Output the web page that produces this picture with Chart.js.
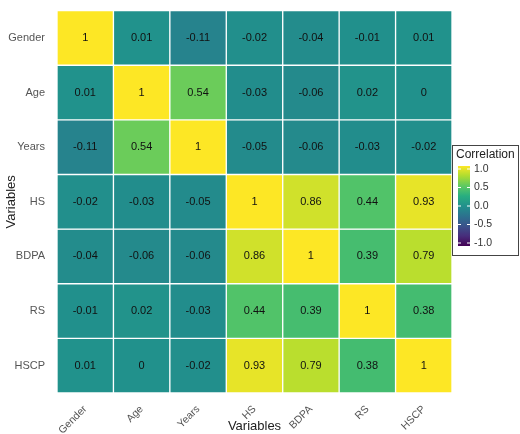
<!DOCTYPE html>
<html>
<head>
<meta charset="utf-8">
<script src="https://cdn.jsdelivr.net/npm/chart.js@4"></script>
<style>
  html, body { margin: 0; padding: 0; background: #fff; }
  #wrap { width: 520px; height: 434px; }
</style>
</head>
<body>
<div id="wrap"><canvas id="heat"></canvas></div>
<script>
// variables, top row first
const variables = ['Gender', 'Age', 'Years', 'HS', 'BDPA', 'RS', 'HSCP'];
const rowGender = [1, 0.01, -0.11, -0.02, -0.04, -0.01, 0.01];
const rowAge    = [0.01, 1, 0.54, -0.03, -0.06, 0.02, 0];
const rowYears  = [-0.11, 0.54, 1, -0.05, -0.06, -0.03, -0.02];
const rowHS     = [-0.02, -0.03, -0.05, 1, 0.86, 0.44, 0.93];
const rowBDPA   = [-0.04, -0.06, -0.06, 0.86, 1, 0.39, 0.79];
const rowRS     = [-0.01, 0.02, -0.03, 0.44, 0.39, 1, 0.38];
const rowHSCP   = [0.01, 0, -0.02, 0.93, 0.79, 0.38, 1];
const rows = [rowGender, rowAge, rowYears, rowHS, rowBDPA, rowRS, rowHSCP];
const legendTicks = [1.0, 0.5, 0.0, -0.5, -1.0];

const viridis = ['#440154', '#472d7b', '#3b528b', '#2c728e', '#21918c', '#28ae80', '#5ec962', '#addc30', '#fde725'];

function hex(c) { return [1, 3, 5].map(i => parseInt(c.substr(i, 2), 16)); }
function colorFor(v) {
  const t = Math.max(0, Math.min(1, (v + 1) / 2)) * (viridis.length - 1);
  const i = Math.min(viridis.length - 2, Math.floor(t));
  const f = t - i;
  const a = hex(viridis[i]), b = hex(viridis[i + 1]);
  const m = a.map((x, k) => Math.round(x + (b[k] - x) * f));
  return `rgb(${m[0]},${m[1]},${m[2]})`;
}

const datasets = rows.map((vals, r) => ({
  label: variables[r],
  data: vals.map(() => [r, r + 1]),
  backgroundColor: vals.map(colorFor),
  borderColor: '#ffffff',
  borderWidth: 1,
  borderSkipped: false,
  grouped: false,
  barPercentage: 1,
  categoryPercentage: 1
}));

const FONT = '"Liberation Sans", Arial, sans-serif';

// numbers in each cell
const cellText = {
  id: 'cellText',
  afterDatasetsDraw(chart) {
    const { ctx, scales: { x, y } } = chart;
    ctx.save();
    ctx.font = '11px ' + FONT;
    ctx.fillStyle = '#111';
    ctx.textAlign = 'center';
    ctx.textBaseline = 'middle';
    rows.forEach((vals, r) => {
      vals.forEach((v, c) => {
        ctx.fillText(String(v), x.getPixelForValue(c), y.getPixelForValue(r + 0.5));
      });
    });
    ctx.restore();
  }
};

// colour bar legend
const colorBar = {
  id: 'colorBar',
  afterDraw(chart) {
    const ctx = chart.ctx;
    const bx = 452, by = 145, bw = 66, bh = 110;
    ctx.save();
    ctx.strokeStyle = '#444';
    ctx.lineWidth = 1;
    ctx.strokeRect(bx + 0.5, by + 0.5, bw, bh);
    ctx.fillStyle = '#222';
    ctx.font = '12px ' + FONT;
    ctx.textBaseline = 'middle';
    ctx.fillText('Correlation', bx + 4, by + 10);
    const top = 166, bot = 246, x0 = bx + 6, w = 12;
    const grad = ctx.createLinearGradient(0, bot, 0, top);
    viridis.forEach((c, i) => grad.addColorStop(i / (viridis.length - 1), c));
    ctx.fillStyle = grad;
    ctx.fillRect(x0, top, w, bot - top);
    ctx.font = '10.5px ' + FONT;
    const y1 = 169, y2 = 243;
    legendTicks.forEach(v => {
      const yy = y2 - (v + 1) / 2 * (y2 - y1);
      ctx.strokeStyle = '#fff';
      ctx.beginPath(); ctx.moveTo(x0, yy); ctx.lineTo(x0 + 3, yy);
      ctx.moveTo(x0 + w - 3, yy); ctx.lineTo(x0 + w, yy); ctx.stroke();
      ctx.fillStyle = '#333';
      ctx.fillText(v.toFixed(1), x0 + w + 4, yy);
    });
    ctx.restore();
  }
};

new Chart(document.getElementById('heat'), {
  type: 'bar',
  data: { labels: variables, datasets },
  plugins: [cellText, colorBar],
  options: {
    responsive: true,
    maintainAspectRatio: false,
    animation: false,
    layout: { padding: { top: 1, right: 68, left: 0, bottom: 0 } },
    plugins: { legend: { display: false }, tooltip: { enabled: false } },
    scales: {
      x: {
        grid: { display: false },
        border: { display: false },
        afterFit(axis) { axis.height = 41; },
        ticks: { color: '#555', maxRotation: 45, minRotation: 45, padding: 2,
                 font: { size: 10.5, family: FONT } },
        title: { display: true, text: 'Variables', color: '#222', padding: { top: 0, bottom: 0 },
                 font: { size: 13, family: FONT } }
      },
      y: {
        type: 'linear',
        reverse: true,
        min: 0,
        max: 7,
        grid: { display: false },
        border: { display: false },
        afterFit(axis) { axis.width = 57; },
        afterBuildTicks(axis) {
          axis.ticks = variables.map((_, i) => ({ value: i + 0.5 }));
        },
        ticks: {
          color: '#555',
          padding: 4,
          font: { size: 11, family: FONT },
          callback: v => variables[Math.floor(v)]
        },
        title: { display: true, text: 'Variables', color: '#222', padding: { bottom: 2 },
                 font: { size: 13, family: FONT } }
      }
    }
  }
});
</script>
</body>
</html>
